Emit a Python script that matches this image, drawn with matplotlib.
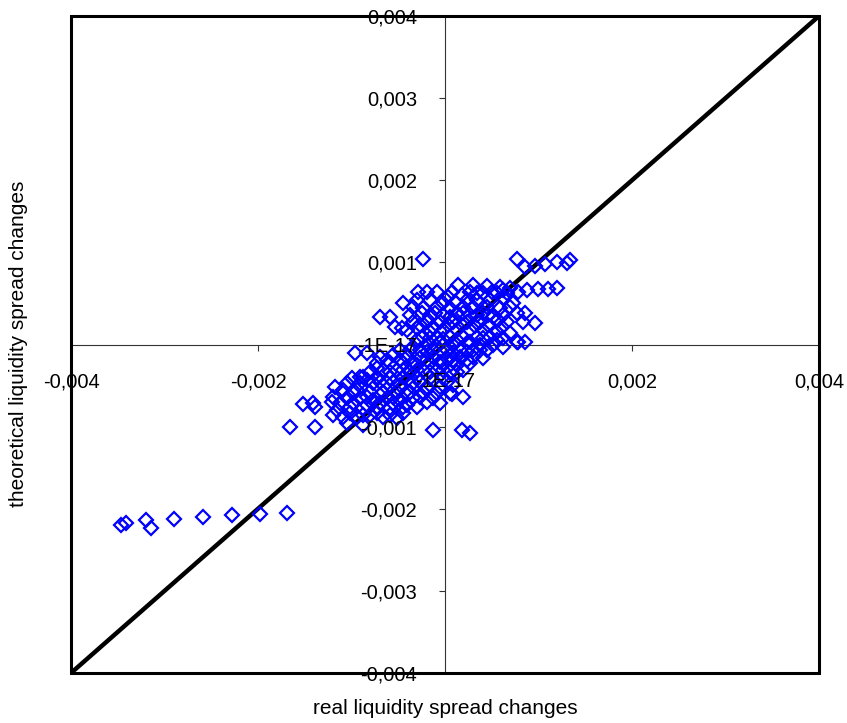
import matplotlib
matplotlib.use("Agg")
import matplotlib.pyplot as plt
import numpy as np
from matplotlib.patches import Rectangle

plt.rcParams['font.family'] = ['Liberation Sans', 'DejaVu Sans']

# values in units of 1e-4
tail_x = [-34.6, -34.1, -32.0, -31.4, -29.0, -25.9, -22.8, -19.75, -16.9]
tail_y = [-22.0, -21.7, -21.4, -22.4, -21.2, -21.0, -20.8, -20.6, -20.5]

edge_x = [-2.32, 7.74, 8.56, 9.63, 10.70, 11.94, 13.01, 13.37, 9.98, 11.05,
          11.94, 8.73, 8.56, 8.38, 9.63, 7.84, 8.56, -2.85, -1.96, -0.89,
          1.43, -4.46, -6.95, -5.88, -5.35, -4.63, -9.63, -8.38, -9.98, -9.09,
          -11.76, -12.12, -15.15, -14.08, -13.90, -16.58, -13.90, -10.87, -1.25, 1.78,
          2.67, -4.46, 0.71, 1.96]
edge_y = [10.37, 10.37, 9.48, 9.56, 9.81, 10.09, 9.97, 10.29, 6.72, 6.72,
          6.84, 6.64, 3.80, 2.78, 2.66, 0.35, 0.35, 6.44, 6.44, 6.44,
          7.25, 5.01, 3.39, 3.39, 2.09, 1.97, -1.08, -1.08, -4.12, -3.92,
          -5.14, -6.96, -7.25, -7.08, -7.57, -10.01, -10.01, -8.79, -10.42, -10.42,
          -10.74, -8.38, -6.03, -6.35]

core_x = [3.03, 4.46, 5.88, 6.95, 7.84, 2.67, 4.10, 5.53, 6.60, 0.71,
          -3.03, -1.60, -0.18, 1.07, 2.32, 3.39, 4.81, 6.24, 7.31, -0.89, 0.53, 1.96, 3.03, 4.46, 5.88, 6.95,
          -3.74, -2.50, -1.60, -0.18, 1.25, 2.67, 4.10, 5.17, 6.24, 7.66, 6.60, 3.74, 2.32, 0.89, -0.53, -1.96, -3.39,
          -4.10, -3.03, -1.60, -0.18, 1.25, 2.67, 4.10, 5.53, 6.95, 4.81, 6.24, 3.39, 1.96, 0.53, -0.89, -2.32,
          -1.96, -0.53, 0.89, 2.32, 3.74, 5.17, 6.24, 7.66, 4.46, 3.03, 1.60, 0.18, -1.25, -2.67, -3.74,
          -6.95, -5.53, -4.10, -2.67, -1.25, 0.18, 1.60, 3.03, 4.10, 2.67, 1.25, -0.18, -1.60, -3.03, -4.46, -5.88, -7.31,
          -8.02, -6.60, -5.17, -3.74, -2.32, -0.89, 0.53, 1.96, -8.73, -7.31, -5.88, -4.46, -3.03, -1.60, -0.18,
          -10.52, -9.09, -7.66, -6.24, -4.81, -3.39, -1.96, -0.53, 0.89, 0.53, -0.89, -2.32, -3.74, -5.17, -6.60, -8.02, -9.45, -10.87,
          -11.94, -10.52, -9.09, -7.66, -6.24, -4.81, -3.39, -1.96, -0.53, -11.59, -10.16, -8.73, -7.31, -5.88, -4.46, -3.03,
          -11.94, -9.45, -8.02, -6.60, -5.17, -10.52, -8.73]
core_y = [7.25, 7.13, 7.04, 6.84, 6.44, 6.44, 6.23, 6.23, 6.23, 6.44,
          5.42, 5.42, 5.01, 5.22, 5.42, 5.42, 5.42, 5.62, 5.01, 4.61, 4.41, 4.61, 4.61, 4.61, 4.41, 4.61,
          3.59, 3.80, 3.39, 3.59, 3.80, 3.59, 3.80, 3.39, 3.59, 3.80, 2.78, 2.78, 2.78, 2.78, 2.78, 2.78, 2.78,
          1.77, 1.97, 1.56, 1.77, 1.77, 1.77, 1.77, 1.56, 1.36, 0.95, 0.75, 0.87, 0.87, 0.87, 0.87, 0.87,
          -0.06, 0.14, -0.06, 0.14, -0.06, -0.06, -0.26, 0.35, -0.67, -0.67, -0.67, -0.67, -0.67, -0.67, -0.67,
          -1.48, -1.28, -1.48, -1.69, -1.48, -1.69, -1.48, -1.48, -1.69, -2.29, -2.50, -2.29, -2.29, -2.50, -2.29, -2.29, -2.29,
          -3.31, -3.11, -3.11, -3.31, -3.11, -3.11, -3.31, -3.11, -3.92, -3.92, -4.12, -3.92, -3.92, -4.12, -3.92,
          -4.73, -4.73, -4.73, -4.73, -4.93, -4.73, -5.14, -5.14, -4.93, -5.95, -5.95, -5.75, -5.75, -5.75, -5.75, -5.75, -5.54, -5.54,
          -6.35, -6.56, -6.56, -6.76, -6.56, -6.76, -6.56, -6.96, -7.17, -7.98, -7.57, -7.78, -7.57, -7.78, -7.57, -7.57,
          -8.59, -8.79, -8.59, -8.79, -9.00, -9.60, -9.81]

fill_x = [-3.39, -2.32, 0.36, 1.78, 3.39, 4.99, 6.24,
          -1.07, 0.53, 1.96, 3.39, 4.63, 5.70,
          -2.67, -1.25, 0.36, 1.78, 3.21, 4.63, 6.06,
          -3.03, -1.60, -0.18, 1.25, 2.67, 4.10, 5.53,
          -4.81, -3.39, -1.96, -0.53, 0.89, 2.32, 3.74,
          -6.24, -4.81, -3.39, -1.96, -0.53, 0.89, 2.32,
          -7.31, -5.88, -4.46, -3.03, -1.60, -0.18, 1.25,
          -8.38, -6.95, -5.53, -4.10, -2.67, -1.25, 0.18,
          -9.80, -8.38, -6.95, -5.53, -4.10, -2.67, -1.25,
          -11.23, -9.80, -8.38, -6.95, -5.53, -4.10,
          -10.16, -8.73, -7.31, -5.88]
fill_y = [4.61, 4.41, 5.83, 6.03, 6.23, 6.44, 6.64,
          3.80, 3.39, 3.80, 3.59, 3.59, 2.98,
          2.38, 2.17, 2.38, 2.38, 2.25, 2.38, 2.17,
          0.55, 0.75, 0.63, 0.55, 0.35, 0.75, 0.55,
          -0.67, -0.26, -0.87, -0.67, -1.08, -0.87, -0.67,
          -1.89, -1.89, -2.09, -1.89, -2.09, -1.89, -1.89,
          -2.90, -3.31, -3.11, -3.11, -3.31, -3.11, -3.31,
          -4.32, -4.53, -4.53, -4.32, -4.53, -4.32, -4.53,
          -5.95, -6.35, -6.15, -6.35, -6.15, -6.35, -6.56,
          -7.17, -7.17, -7.37, -7.17, -7.17, -7.37,
          -8.38, -8.59, -8.38, -8.59]

diag = [-0.004, 0.004]

xticks = [-0.004, -0.002, 0.0, 0.002, 0.004]
xlabels = ['-0,004', '-0,002', '-1E-17', '0,002', '0,004']
yticks = [-0.004, -0.003, -0.002, -0.001, 0.0, 0.001, 0.002, 0.003, 0.004]
ylabels = ['-0,004', '-0,003', '-0,002', '-0,001', '-1E-17', '0,001', '0,002', '0,003', '0,004']

real = np.concatenate([tail_x, edge_x, core_x, fill_x]) * 1e-4
theo = np.concatenate([tail_y, edge_y, core_y, fill_y]) * 1e-4

fig = plt.figure(figsize=(8.47, 7.23), dpi=100)
ax = fig.add_axes([71/847, 1 - 673/723, 748/847, 657/723])
ax.set_xlim(-0.004, 0.004)
ax.set_ylim(-0.004, 0.004)

ax.plot(diag, diag, color='black', lw=3.2, zorder=2, solid_capstyle='butt')
ax.plot(real, theo, linestyle='none', marker='D', ms=7.5, mfc='none',
        mec='#0000ff', mew=1.6, zorder=3)

ax.spines['left'].set_position(('data', 0))
ax.spines['bottom'].set_position(('data', 0))
for s in ['left', 'bottom']:
    ax.spines[s].set_linewidth(0.8)
    ax.spines[s].set_color('#333333')
    ax.spines[s].set_zorder(1)
ax.spines['top'].set_visible(False)
ax.spines['right'].set_visible(False)
ax.add_patch(Rectangle((0, 0), 1, 1, transform=ax.transAxes, fill=False,
                       lw=2.2, edgecolor='black', clip_on=False, zorder=5))

ax.set_xticks(xticks)
ax.set_xticklabels(xlabels)
ax.set_yticks(yticks)
ax.set_yticklabels(ylabels)
ax.tick_params(axis='both', direction='out', length=4, width=0.8,
               color='#333333', pad=16, labelsize=14.5)
# tick labels sit on top of the points, like in the original
ax.xaxis.set_zorder(4)
ax.yaxis.set_zorder(4)

fig.text(445/847, 1 - 708/723, 'real liquidity spread changes',
         ha='center', va='center', fontsize=15)
fig.text(19/847, 1 - 344/723, 'theoretical liquidity spread changes',
         ha='center', va='center', rotation=90, fontsize=15)

fig.savefig('out.png', dpi=100)
